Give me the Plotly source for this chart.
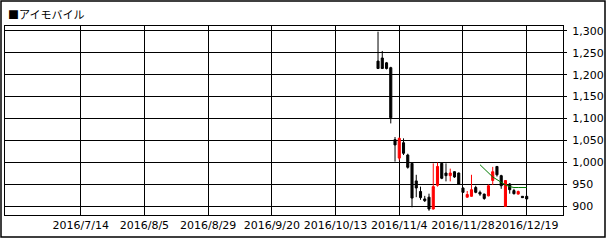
import pandas as pd
import plotly.graph_objects as go

title_text = "■アイモバイル"

dates = ["2016-10-27", "2016-10-28", "2016-10-31", "2016-11-01", "2016-11-02", "2016-11-04",
         "2016-11-07", "2016-11-08", "2016-11-09", "2016-11-10", "2016-11-11", "2016-11-14",
         "2016-11-15", "2016-11-16", "2016-11-17", "2016-11-18", "2016-11-21", "2016-11-22",
         "2016-11-24", "2016-11-25", "2016-11-28", "2016-11-29", "2016-11-30", "2016-12-01",
         "2016-12-02", "2016-12-05", "2016-12-06", "2016-12-07", "2016-12-08", "2016-12-09",
         "2016-12-12", "2016-12-13", "2016-12-14", "2016-12-15", "2016-12-16", "2016-12-19"]
opens = [1231, 1238, 1227, 1216, 1052, 1010, 1045, 1017, 998, 958, 934, 917,
         921, 894, 948, 998, 976, 970, 979, 976, 942, 921, 923, 943,
         932, 928, 924, 959, 991, 970, 900, 951, 936, 928, 923, 923]
highs = [1298, 1254, 1229, 1218, 1058, 1057, 1055, 1020, 1000, 972, 945, 924,
         929, 998, 1000, 999, 998, 986, 980, 977, 943, 935, 972, 947,
         936, 929, 950, 990, 992, 972, 960, 953, 940, 936, 923, 923]
lows = [1213, 1213, 1212, 1089, 1002, 1005, 1017, 986, 898, 921, 915, 910,
        890, 893, 945, 962, 957, 957, 965, 950, 931, 920, 922, 930,
        924, 915, 923, 949, 968, 940, 899, 929, 927, 927, 919, 916]
closes = [1214, 1214, 1214, 1102, 1040, 1055, 1021, 989, 919, 942, 920, 913,
          894, 945, 991, 964, 970, 976, 967, 951, 932, 927, 938, 932,
          928, 918, 947, 979, 972, 947, 959, 938, 929, 934, 920, 917]

ma_dates = ["2016-12-02", "2016-12-05", "2016-12-06", "2016-12-07", "2016-12-08", "2016-12-09",
            "2016-12-12", "2016-12-13", "2016-12-14", "2016-12-15", "2016-12-16", "2016-12-19"]
ma_values = [995, 986, 976, 967, 961, 954, 949, 945, 943, 943, 943, 943]

tick_dates = ["2016-07-14", "2016-08-05", "2016-08-29", "2016-09-20",
              "2016-10-13", "2016-11-04", "2016-11-28", "2016-12-19"]
tick_labels = ["2016/7/14", "2016/8/5", "2016/8/29", "2016/9/20",
               "2016/10/13", "2016/11/4", "2016/11/28", "2016/12/19"]
holidays = ["2016-07-18", "2016-08-11", "2016-09-19", "2016-09-22",
            "2016-10-10", "2016-11-03", "2016-11-23", "2016-12-23"]

# trading-day calendar -> integer positions
cal = [d.strftime("%Y-%m-%d") for d in pd.bdate_range("2016-06-01", "2016-12-30")]
cal = [d for d in cal if d not in holidays]
pos = {d: i for i, d in enumerate(cal)}

x = [pos[d] for d in dates]
ma_x = [pos[d] for d in ma_dates]
tickvals = [pos[d] for d in tick_dates]

W, H = 607, 240
L, R, T, B = 5, 44, 26, 25
PW, PH = W - L - R, H - T - B
px_per_day = 4.2476
x0 = tickvals[0] - (80.7 - L) / px_per_day
x1 = x0 + PW / px_per_day

fig = go.Figure()
fig.add_trace(go.Candlestick(
    x=x, open=opens, high=highs, low=lows, close=closes,
    increasing=dict(line=dict(color="#ff0000", width=1), fillcolor="#ff0000"),
    decreasing=dict(line=dict(color="#000000", width=1), fillcolor="#000000"),
    whiskerwidth=0, showlegend=False, hoverinfo="skip"))
fig.add_trace(go.Scatter(x=ma_x, y=ma_values, mode="lines",
                         line=dict(color="#007a00", width=1), showlegend=False, hoverinfo="skip"))

def px2x(p):
    return (p - L) / PW

def px2y(p):
    return (H - B - p) / PH

fig.add_shape(type="rect", xref="paper", yref="paper",
              x0=px2x(1), x1=px2x(605), y0=px2y(237), y1=px2y(1),
              line=dict(color="#000000", width=1.5), layer="above")

fig.add_annotation(text=title_text, xref="paper", yref="paper",
                   x=px2x(6), y=px2y(14), xanchor="left", yanchor="middle",
                   showarrow=False, font=dict(family="Noto Sans CJK JP", size=11, color="#000000"))

fig.update_layout(
    width=W, height=H, margin=dict(l=L, r=R, t=T, b=B, pad=0, autoexpand=False),
    paper_bgcolor="#ffffff", plot_bgcolor="#ffffff",
    boxgap=0.3,
    font=dict(family="DejaVu Sans", size=11, color="#000000"),
    xaxis=dict(range=[x0, x1], tickmode="array", tickvals=tickvals, ticktext=tick_labels,
               showgrid=True, gridcolor="#000000", gridwidth=1, tickangle=0,
               showline=True, mirror=True, linecolor="#000000", linewidth=1,
               zeroline=False, ticks="", rangeslider=dict(visible=False),
               tickfont=dict(size=11), automargin=False),
    yaxis=dict(range=[880.4, 1310.9], side="right", tick0=900, dtick=50, tickformat=",",
               showgrid=True, gridcolor="#000000", gridwidth=1,
               showline=True, mirror=True, linecolor="#000000", linewidth=1,
               zeroline=False, ticks="outside", ticklen=3, tickcolor="#000000",
               ticklabelstandoff=3,
               tickfont=dict(size=11), automargin=False),
)

fig.write_html("out.html")
